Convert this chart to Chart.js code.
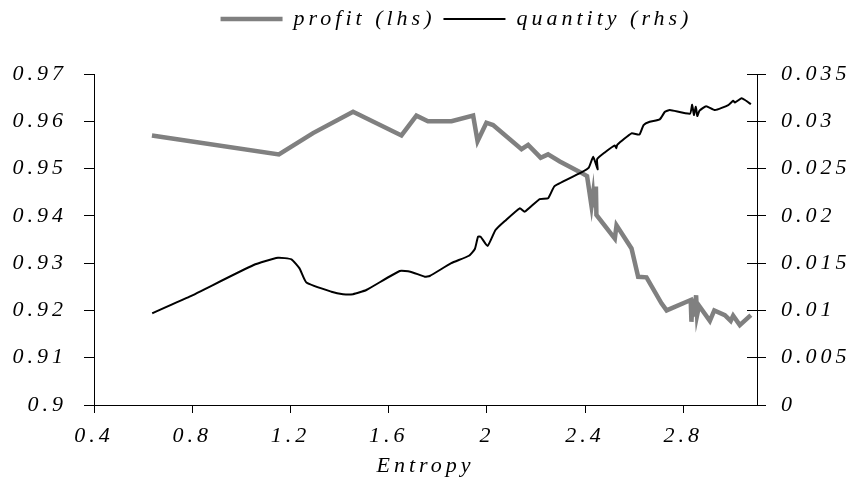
<!DOCTYPE html>
<html><head><meta charset="utf-8">
<script src="https://cdn.jsdelivr.net/npm/chart.js@4.4.0/dist/chart.umd.min.js"></script>
<style>html,body{margin:0;padding:0;background:#fff;}</style>
</head><body>
<canvas id="c" width="855" height="485"></canvas>
<script>
const seriesNames = ['profit (lhs)', 'quantity (rhs)'];
const xTitle = 'Entropy';
const xTickValues = [0.4, 0.8, 1.2, 1.6, 2, 2.4, 2.8];
const leftTickValues = [0.9, 0.91, 0.92, 0.93, 0.94, 0.95, 0.96, 0.97];
const rightTickValues = [0, 0.005, 0.01, 0.015, 0.02, 0.025, 0.03, 0.035];

const profitEntropy = [0.636,1.153,1.292,1.455,1.652,1.713,1.760,1.856,1.944,1.962,1.998,2.025,2.141,2.168,2.219,2.249,2.297,2.378,2.408,2.426,2.432,2.436,2.444,2.446,2.521,2.528,2.589,2.616,2.650,2.711,2.732,2.830,2.833,2.838,2.843,2.852,2.856,2.864,2.908,2.926,2.969,2.993,3.003,3.030,3.075];
const profitValue = [0.9570,0.9530,0.9575,0.9620,0.9570,0.9612,0.9600,0.9600,0.9612,0.9558,0.9597,0.9592,0.9541,0.9550,0.9523,0.9530,0.9515,0.9493,0.9484,0.9421,0.9445,0.9418,0.9462,0.9402,0.9352,0.9380,0.9331,0.9271,0.9270,0.9215,0.9200,0.9222,0.9176,0.9225,0.9187,0.9232,0.9190,0.9210,0.9178,0.9200,0.9190,0.9178,0.9189,0.9169,0.9190];

const quantityEntropy = [0.637,0.789,1.050,1.149,1.204,1.237,1.265,1.367,1.414,1.455,1.509,1.645,1.688,1.747,1.767,1.855,1.927,1.951,1.964,1.975,2.003,2.035,2.073,2.134,2.154,2.215,2.249,2.276,2.385,2.415,2.433,2.451,2.449,2.480,2.521,2.527,2.531,2.589,2.621,2.638,2.663,2.704,2.725,2.745,2.827,2.836,2.843,2.851,2.857,2.866,2.893,2.929,2.983,3.003,3.010,3.037,3.051,3.075];
const quantityValue = [0.0097,0.01145,0.0148,0.01557,0.0154,0.01445,0.01295,0.01198,0.01172,0.01172,0.01216,0.01417,0.0141,0.01357,0.01364,0.0150,0.01578,0.0165,0.0178,0.01778,0.01682,0.0185,0.01945,0.0208,0.02044,0.02178,0.02185,0.02315,0.0246,0.0251,0.02625,0.02492,0.0260,0.0267,0.02745,0.02715,0.02752,0.02872,0.0286,0.0296,0.02995,0.0302,0.0310,0.03119,0.0308,0.03175,0.03066,0.03154,0.03056,0.03112,0.0316,0.03119,0.03172,0.03217,0.03198,0.03243,0.03225,0.0318];

const FONT_FAMILY = '"Liberation Serif", "Times New Roman", serif';
const LS = '4px';
const tickFont = {family: FONT_FAMILY, size: 22, style: 'italic'};
const fmt = v => String(parseFloat(Number(v).toFixed(4)));
const setTicks = arr => scale => { scale.ticks = arr.map(v => ({value: v})); };

const spacingPlugin = {
  id: 'spacing',
  beforeUpdate(c) { c.ctx.letterSpacing = LS; },
  beforeLayout(c) { c.ctx.letterSpacing = LS; },
  beforeDraw(c) { c.ctx.letterSpacing = LS; }
};
const innerTicks = {
  id: 'innerTicks',
  afterDraw(c) {
    const s = c.scales.y1, ctx = c.ctx;
    ctx.save();
    ctx.strokeStyle = '#000'; ctx.lineWidth = 1;
    ctx.beginPath();
    s.ticks.forEach(t => {
      const y = Math.floor(s.getPixelForValue(t.value)) + 0.5;
      ctx.moveTo(s.left - 10, y); ctx.lineTo(s.left, y);
    });
    ctx.stroke();
    ctx.restore();
  }
};
const legendShift = {
  id: 'legendShift',
  afterLayout(c) { if (c.legend) { c.legend.left += 58; } }
};

new Chart(document.getElementById('c'), {
  type: 'line',
  data: {
    datasets: [
      {
        label: seriesNames[0],
        data: profitEntropy.map((x, i) => ({x, y: profitValue[i]})),
        yAxisID: 'y', borderColor: '#808080', backgroundColor: '#808080',
        borderWidth: 4.5, pointRadius: 0, tension: 0, order: 1, fill: false
      },
      {
        label: seriesNames[1],
        data: quantityEntropy.map((x, i) => ({x, y: quantityValue[i]})),
        yAxisID: 'y1', borderColor: '#000', backgroundColor: '#000',
        borderWidth: 2, pointRadius: 0, tension: 0.15, order: 0, fill: false
      }
    ]
  },
  options: {
    responsive: false, animation: false, devicePixelRatio: 1, events: [],
    layout: {padding: 0},
    plugins: {
      tooltip: {enabled: false},
      legend: {
        position: 'top', weight: 3000,
        labels: {
          usePointStyle: true, pointStyle: 'line', pointStyleWidth: 62,
          padding: 8, color: '#000', font: tickFont,
          sort: (a, b) => a.datasetIndex - b.datasetIndex
        }
      },
      subtitle: {display: true, text: ' ', font: {size: 10}, padding: {top: 0, bottom: 22}}
    },
    scales: {
      x: {
        type: 'linear', position: 'bottom', min: 0.4, max: 3.1,
        afterBuildTicks: setTicks(xTickValues),
        afterFit: s => { s.height = 80; },
        grid: {drawOnChartArea: false, tickLength: 8, color: '#000'},
        border: {color: '#000', width: 1},
        ticks: {font: tickFont, color: '#000', padding: 10, maxRotation: 0, autoSkip: false, callback: fmt},
        title: {display: true, text: xTitle, font: tickFont, color: '#000', padding: {top: 0, bottom: 6}}
      },
      y: {
        type: 'linear', position: 'left', min: 0.9, max: 0.97,
        afterBuildTicks: setTicks(leftTickValues),
        afterFit: s => { s.width = 94; },
        grid: {drawOnChartArea: false, tickLength: 10, color: '#000'},
        border: {color: '#000', width: 1},
        ticks: {font: tickFont, color: '#000', padding: 17, autoSkip: false, callback: fmt}
      },
      y1: {
        type: 'linear', position: 'right', min: 0, max: 0.035,
        afterBuildTicks: setTicks(rightTickValues),
        afterFit: s => { s.width = 98; },
        grid: {drawOnChartArea: false, tickLength: 9, color: '#000'},
        border: {color: '#000', width: 1},
        ticks: {font: tickFont, color: '#000', padding: 15, autoSkip: false, callback: fmt}
      }
    }
  },
  plugins: [spacingPlugin, innerTicks, legendShift]
});
</script>
</body></html>
